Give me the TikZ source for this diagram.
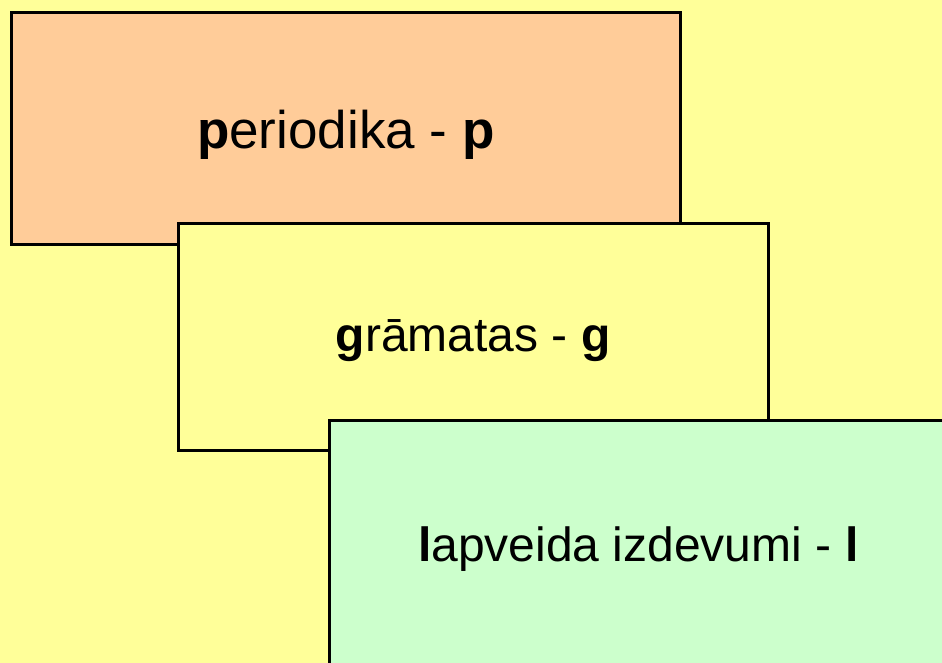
\documentclass[tikz,border=0pt]{standalone}
\usepackage{fontspec}
\setmainfont{Liberation Sans}
\definecolor{bgyellow}{HTML}{FFFF99}
\definecolor{boxorange}{HTML}{FFCC99}
\definecolor{boxgreen}{HTML}{CCFFCC}
\tikzset{
  kind/.style={draw=black, line width=2.6pt, inner sep=0pt, anchor=north west},
  kindtext/.style={inner sep=0pt}
}
\begin{document}
\begin{tikzpicture}[x=1pt, y=-1pt]
% background
\fill[bgyellow] (0,0) rectangle (942,663);
\useasboundingbox (0,0) rectangle (942,663);
\clip (0,0) rectangle (942,663);
% box for periodika
\node[kind, fill=boxorange, minimum width=669pt, minimum height=232pt] (periodika)
  at (10,11) {};
\node[kindtext, font=\fontsize{53}{60}\selectfont, yshift=-6pt] (ptext)
  at (periodika.center) {\textbf{p}eriodika - \textbf{p}};
% box for gramatas
\node[kind, fill=bgyellow, minimum width=590pt, minimum height=227pt] (gramatas)
  at (177,222) {};
\node[kindtext, font=\fontsize{48}{56}\selectfont, yshift=-4pt] (gtext)
  at (gramatas.center) {\textbf{g}rāmatas - \textbf{g}};
% box for lapveida izdevumi
\node[kind, fill=boxgreen, minimum width=618pt, minimum height=254pt] (lapveida)
  at (328,419) {};
\node[kindtext, font=\fontsize{48}{56}\selectfont, yshift=-2pt] (ltext)
  at (lapveida.center) {\textbf{l}apveida izdevumi - \textbf{l}};
\end{tikzpicture}
\end{document}
